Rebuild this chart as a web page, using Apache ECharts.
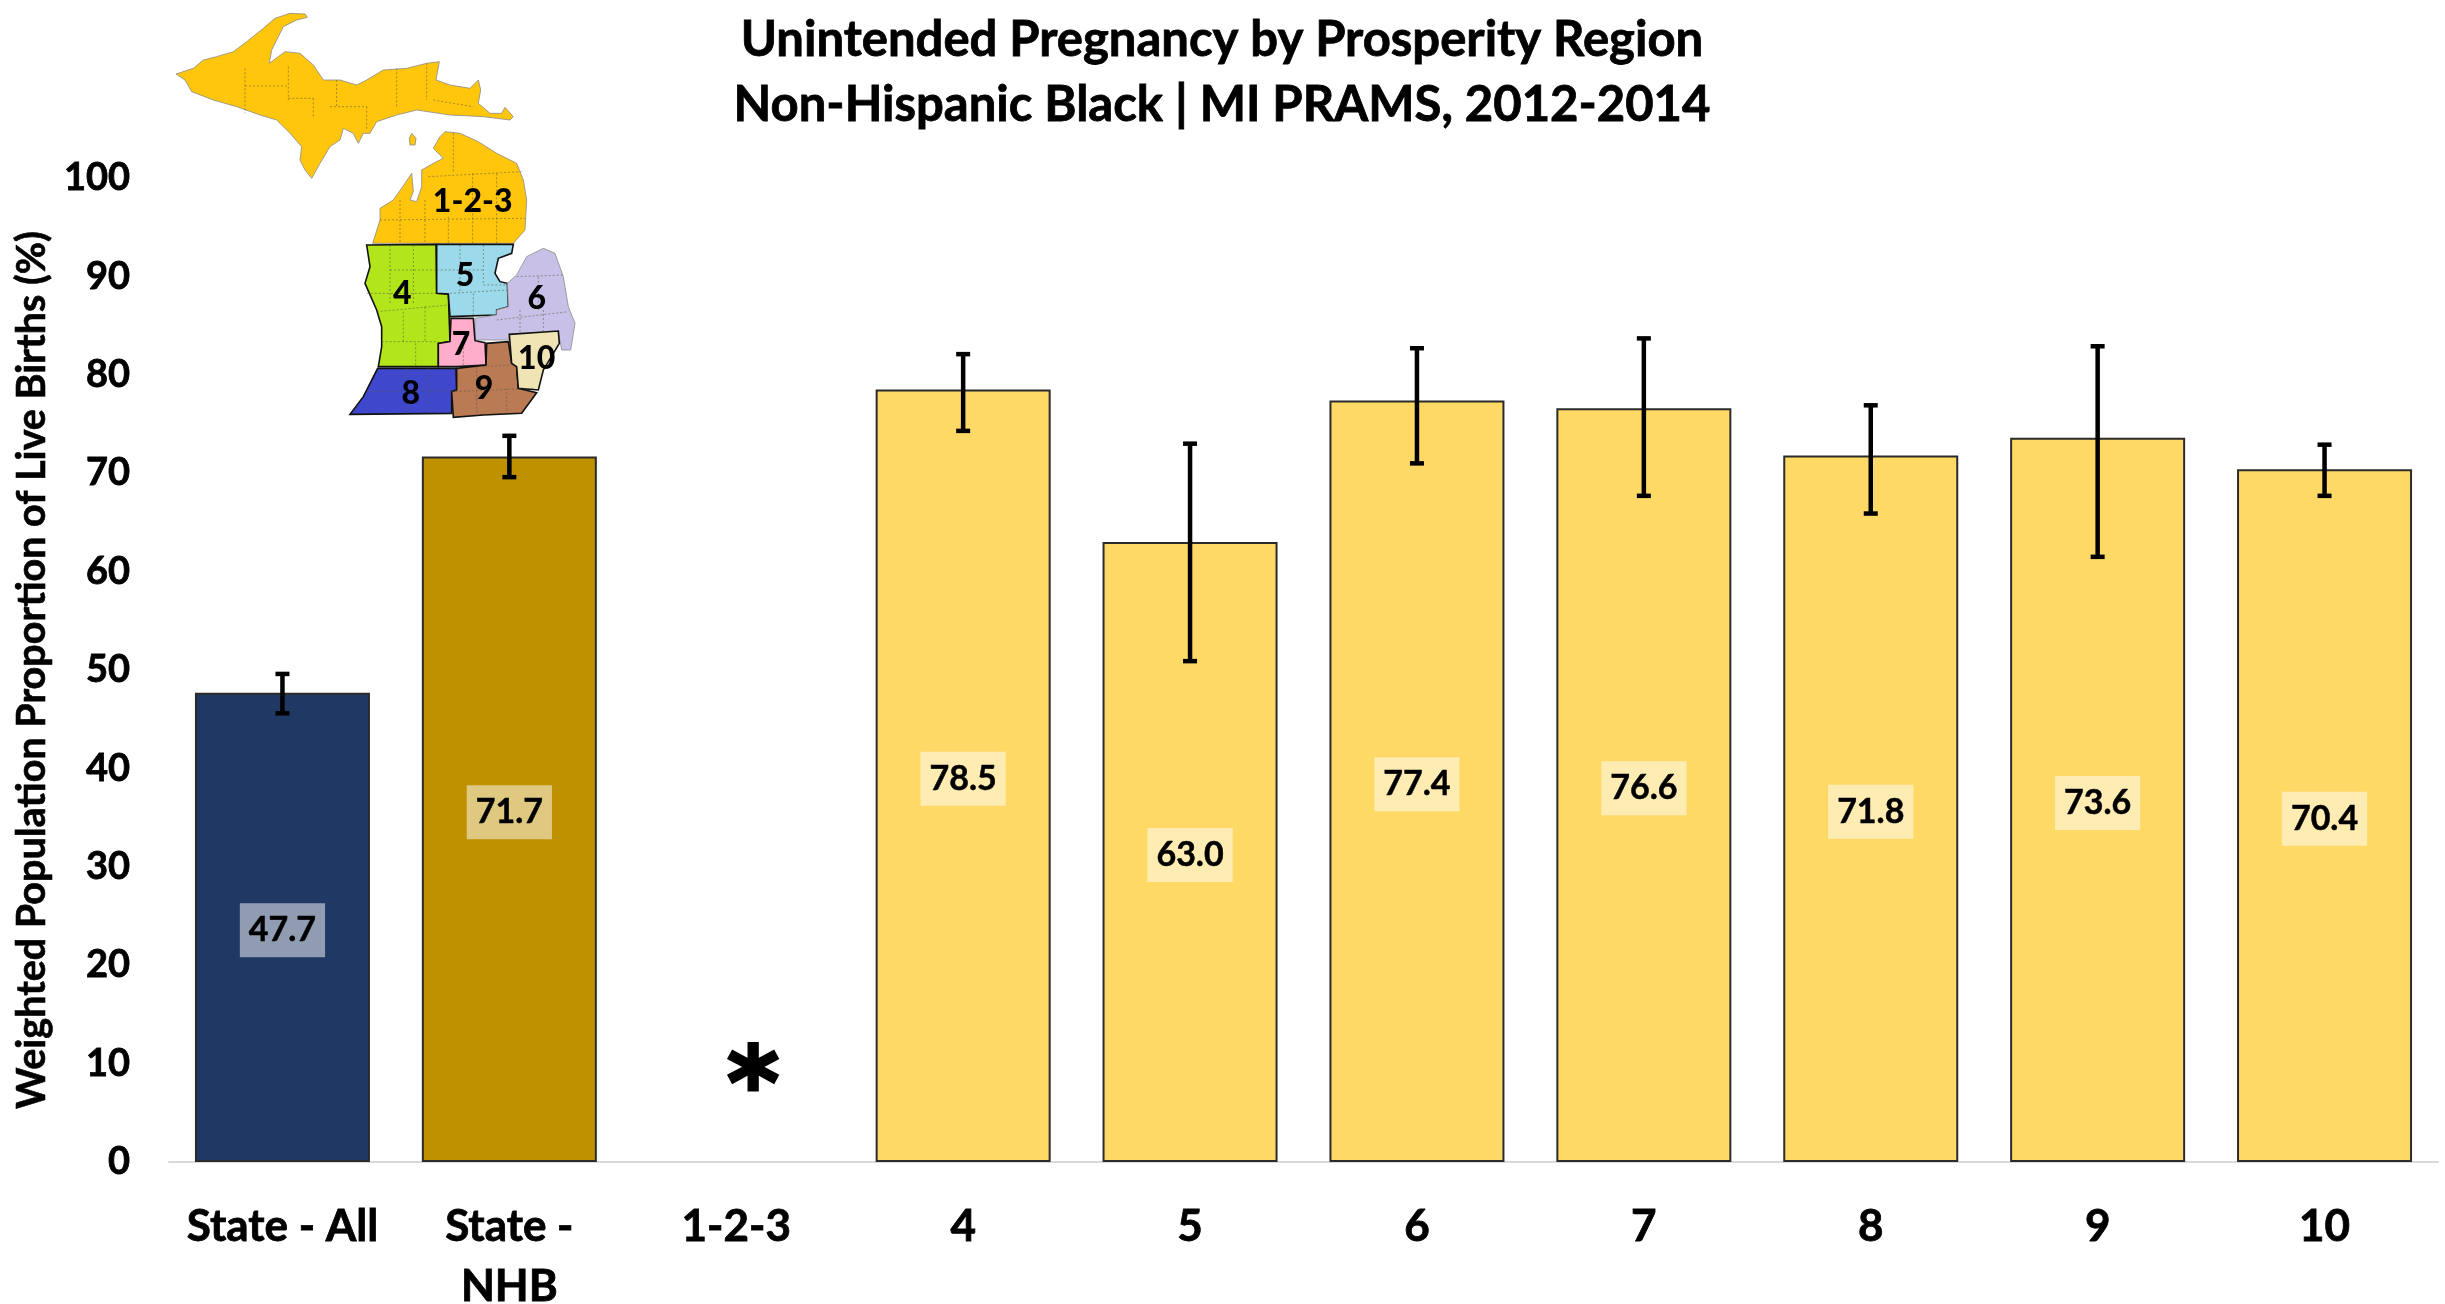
<!DOCTYPE html>
<html><head><meta charset="utf-8">
<style>html,body{margin:0;padding:0;background:#fff}#c{width:2445px;height:1304px}</style>
<script src="https://cdn.jsdelivr.net/npm/echarts@6/dist/echarts.min.js"></script>
</head><body><div id="c"></div>
<script>
const categories = ['State - All','State -\nNHB','1-2-3','4','5','6','7','8','9','10'];
const values = [47.7,71.7,null,78.5,63.0,77.4,76.6,71.8,73.6,70.4];
const ciLow  = [45.6,69.6,null,74.3,50.9,71.0,67.7,65.9,61.5,67.7];
const ciHigh = [49.6,73.8,null,82.1,73.0,82.7,83.7,76.9,82.9,72.9];
const barColors = ['#1F3864','#BF9000','#FFD966','#FFD966','#FFD966','#FFD966','#FFD966','#FFD966','#FFD966','#FFD966'];
const suppressed = [['1-2-3',10]];
const titleText = 'Unintended Pregnancy by Prosperity Region\nNon-Hispanic Black | MI PRAMS, 2012-2014';
const yAxisTitle = 'Weighted Population Proportion of Live Births (%)';

// Inset map of Michigan's prosperity regions (illustration, not data)
const mapRegions = [
 ['#FFC60B',[78,222,130,205,160,180,200,170,250,155,290,125,340,85,375,55,420,40,465,42,472,52,440,60,400,80,385,110,365,150,358,190,385,170,405,155,450,160,490,195,520,240,570,240,620,255,650,240,700,210,770,205,830,190,868,185,858,240,900,255,960,265,985,240,992,270,985,310,1020,340,1055,340,1065,322,1090,350,1080,360,1040,355,1000,350,900,345,800,330,740,345,680,365,660,400,640,400,625,430,610,400,580,385,570,420,540,440,510,490,485,535,465,510,450,480,455,440,420,400,380,360,330,345,260,320,190,300,125,275,105,240],0],
 ['#FFC60B',[668,730,690,660,690,625,730,600,765,550,785,520,790,575,780,600,800,605,815,560,815,510,850,490,880,475,850,445,870,410,885,395,930,400,985,425,1040,460,1100,490,1120,540,1130,600,1125,690,1090,730],0],
 ['#FFC60B',[785,400,798,415,795,435,780,435,778,415],0],
 ['#B2E61A',[650,735,858,733,860,880,895,882,900,1025,865,1030,865,1100,685,1100,695,1040,695,980,680,930,645,850,660,800],1],
 ['#9BDAEA',[860,733,1090,733,1085,760,1045,775,1035,820,1050,845,1072,850,1075,920,1040,930,1040,945,900,950,895,882,860,880],1],
 ['#C8C0E6',[975,955,1040,945,1040,930,1075,920,1072,850,1100,825,1130,770,1180,745,1215,760,1240,830,1255,920,1275,970,1262,1050,1235,1050,1225,995,1078,1002,1075,1020,975,1020],0],
 ['#FFADCB',[903,955,970,955,975,1022,1005,1028,1008,1095,920,1100,865,1100,865,1030,900,1025],1],
 ['#3F48CC',[683,1105,918,1105,920,1170,905,1175,905,1240,600,1243,640,1190],1],
 ['#BA7A54',[920,1105,1008,1095,1010,1030,1075,1025,1085,1090,1100,1100,1105,1165,1160,1178,1115,1240,1000,1245,910,1252,905,1175,920,1170],1],
 ['#F0E4B4',[1078,1003,1225,993,1228,1030,1210,1060,1180,1110,1165,1170,1105,1165,1100,1100,1085,1090],1]
];
const mapCountyLines = [
 [285,205,285,340],[560,240,560,320],[415,200,415,300],[285,258,410,258],[415,295,490,295],[490,295,490,350],[540,320,650,320],[650,320,650,390],[740,205,740,320],[830,190,830,300],[850,300,970,320],
 [750,600,750,730],[825,600,825,730],[895,650,895,730],[968,520,968,730],[1040,520,1040,730],[690,660,1125,655],[910,400,910,520],[835,530,1115,515],
 [720,735,720,910],[790,735,790,910],[720,810,860,810],[650,880,860,880],[680,935,895,915],[760,935,760,1025],[825,920,825,1025],[695,1025,865,1025],[797,1030,797,1100],
 [930,735,930,880],[1000,735,1000,855],[1000,855,1072,855],[860,810,1000,810],[970,880,970,950],[900,880,1075,870],
 [1100,830,1240,825],[1165,830,1165,930],[1040,960,1255,935],[1110,930,1110,1000],[1180,930,1180,995],
 [770,1105,770,1240],[835,1105,835,1240],[650,1175,920,1172],[1000,1100,1085,1095],[905,1175,1150,1165],[980,1100,980,1245],[1070,1165,1070,1240],[940,1030,940,1100]
];
const mapLabels = [['1-2-3',968,605],['4',757,880],['5',945,828],['6',1160,895],['7',933,1035],['8',782,1180],['9',1002,1165],['10',1160,1075]];

const FONT = 'Lato';
const mapX = v => 150 + v / 3, mapY = v => v / 3;
const toPts = a => { const p = []; for (let i = 0; i < a.length; i += 2) p.push([mapX(a[i]), mapY(a[i + 1])]); return p; };
const graphics = [];
mapRegions.forEach(([color, pts, strong]) => graphics.push({
  type: 'polygon', z: 20, shape: { points: toPts(pts) },
  style: { fill: color, stroke: strong ? '#111' : '#8a8a8a', lineWidth: strong ? 1.6 : 0.8 }
}));
mapCountyLines.forEach(l => graphics.push({
  type: 'line', z: 21, shape: { x1: mapX(l[0]), y1: mapY(l[1]), x2: mapX(l[2]), y2: mapY(l[3]) },
  style: { stroke: 'rgba(90,90,70,0.55)', lineWidth: 1, lineDash: [2, 2] }
}));
mapLabels.forEach(([t, x, y]) => graphics.push({
  type: 'text', z: 22, x: mapX(x), y: mapY(y),
  style: { text: t, fill: '#000', font: '900 32px ' + FONT, textAlign: 'center', textVerticalAlign: 'middle' }
}));

const heavy = w => ({ textBorderColor: '#000', textBorderWidth: w });
const chart = echarts.init(document.getElementById('c'));
chart.setOption({
  animation: false,
  backgroundColor: '#fff',
  title: {
    text: titleText, left: 1217, top: 3, textAlign: 'center',
    textStyle: { fontFamily: FONT, fontWeight: 'bold', fontSize: 49, lineHeight: 65, color: '#000', ...heavy(0.8) }
  },
  grid: { left: 169, right: 7, top: 178, bottom: 142, outerBoundsMode: 'none' },
  xAxis: {
    type: 'category', data: categories,
    axisLine: { lineStyle: { color: '#D9D9D9', width: 2 } },
    axisTick: { show: false },
    axisLabel: { interval: 0, margin: 35, fontFamily: FONT, fontWeight: 'bold', fontSize: 44, lineHeight: 60, color: '#000', ...heavy(0.8) }
  },
  yAxis: {
    type: 'value', min: 0, max: 100, interval: 10,
    splitLine: { show: false }, axisLine: { show: false }, axisTick: { show: false },
    axisLabel: { margin: 39, padding: [6, 0, 0, 0], fontFamily: FONT, fontWeight: 'bold', fontSize: 38, color: '#000', ...heavy(0.8) },
    name: yAxisTitle, nameLocation: 'middle', nameGap: 116, nameRotate: 90,
    nameTextStyle: { fontFamily: FONT, fontWeight: 'bold', fontSize: 39.5, color: '#000', ...heavy(0.6) }
  },
  graphic: graphics,
  series: [
    {
      type: 'bar', barWidth: 175,
      data: values.map((v, i) => ({ value: v, itemStyle: { color: barColors[i] } })),
      itemStyle: { borderColor: '#2b2b2b', borderWidth: 2 },
      label: {
        show: true, position: 'inside', offset: [0, 3], formatter: p => p.value.toFixed(1),
        fontFamily: FONT, fontWeight: 'bold', fontSize: 34, color: '#000', ...heavy(0.5),
        backgroundColor: 'rgba(255,255,255,0.5)', padding: [11, 9, 9, 9]
      },
      z: 2
    },
    {
      type: 'custom', z: 3,
      data: categories.map((c, i) => [i, ciLow[i], ciHigh[i]]).filter(d => d[1] !== null),
      encode: { x: 0, y: [1, 2] },
      renderItem: (params, api) => {
        const lo = api.coord([api.value(0), api.value(1)]);
        const hi = api.coord([api.value(0), api.value(2)]);
        const st = { stroke: '#000', lineWidth: 4.5 };
        const seg = (x1, y1, x2, y2) => ({ type: 'line', shape: { x1, y1, x2, y2 }, style: st });
        return { type: 'group', children: [
          seg(lo[0], lo[1], hi[0], hi[1]),
          seg(lo[0] - 7, lo[1], lo[0] + 7, lo[1]),
          seg(hi[0] - 7, hi[1], hi[0] + 7, hi[1])
        ] };
      }
    },
    {
      type: 'scatter', symbolSize: 0, z: 4, data: suppressed,
      label: {
        show: true, position: 'inside', formatter: '*', offset: [17, 28],
        fontFamily: 'DejaVu Sans', fontWeight: 'bold', fontSize: 100, color: '#000', opacity: 1,
        textBorderColor: '#000', textBorderWidth: 3
      }
    }
  ]
});
</script></body></html>
